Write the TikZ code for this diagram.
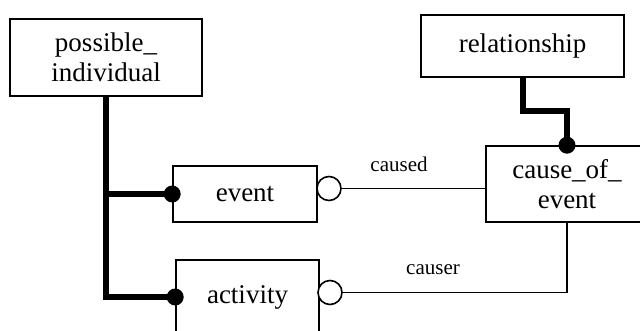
\documentclass[tikz,border=0pt]{standalone}
\usepackage{fontspec}
\setmainfont{Liberation Serif}

\begin{document}
\begin{tikzpicture}[x=1pt, y=-1pt,
        box/.style={rectangle, draw, line width=1.6pt, fill=white, align=center, font=\fontsize{27}{30}\selectfont},
        link/.style={line width=1.5pt},
        heavy/.style={line width=6pt},
        dot/.style={circle, fill, inner sep=0pt, minimum size=17pt},
        ring/.style={circle, draw, line width=1.6pt, fill=white, inner sep=0pt, minimum size=24pt},
        role/.style={font=\fontsize{21}{24}\selectfont}
    ]
        \useasboundingbox (0,0) rectangle (640,330);
        \clip (0,0) rectangle (640,330);

        \node[box, minimum width=192pt, minimum height=77pt] (indiv) at (106,57.5)  {possible\_\\individual};
        \node[box, minimum width=203pt, minimum height=62pt] (rel)   at (522.5,46)  {relationship};
        \node[box, minimum width=144pt, minimum height=56pt] (event) at (245,194)   {event};
        \node[box, minimum width=143pt, minimum height=74pt] (act)   at (247.5,297) {activity};
        \node[box, minimum width=162pt, minimum height=76pt] (coe)   at (567,184)   {cause\_of\_\\event};

        % subtype links
        \draw[heavy] (indiv.south) |- (event.west);
        \draw[heavy] (indiv.south) |- (act.west);
        \draw[heavy] (rel.south) -- ++(0,33) -| (coe.north);
        \node[dot] (evdot)  at (event.west) {};
        \node[dot] (actdot) at (act.west)   {};
        \node[dot] (coedot) at (coe.north)  {};

        % roles
        \node[ring] (evring)  at (329,188.5) {};
        \node[ring] (actring) at (330,292.5) {};
        \draw[link] (evring.east) -- (evring.east -| coe.west);
        \draw[link] (actring.east) -| (coe.south);
        \node[role] (caused) at (399,164) {caused};
        \node[role] (causer) at (433,270) {causer};
    \end{tikzpicture}
\end{document}
